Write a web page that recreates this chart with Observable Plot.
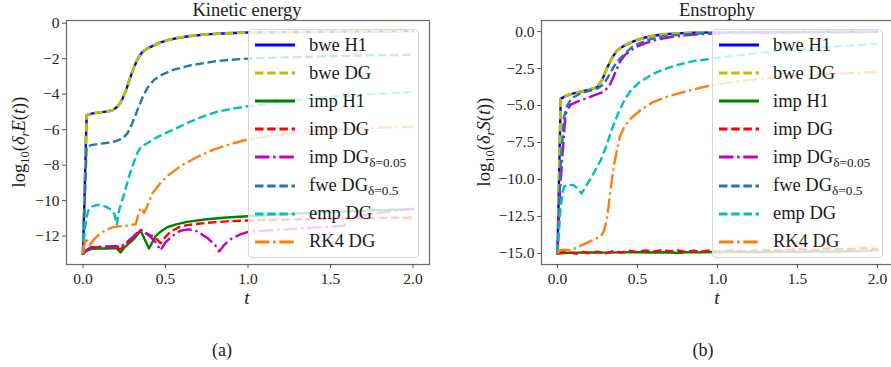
<!DOCTYPE html>
<html><head><meta charset="utf-8">
<script src="https://cdn.jsdelivr.net/npm/d3@7"></script>
<script src="https://cdn.jsdelivr.net/npm/@observablehq/plot@0.6"></script>
<style>
body{margin:0;background:#fff;}
#wrap{position:relative;width:891px;height:367px;overflow:hidden;background:#fff;font-family:"Liberation Serif",serif;color:#1a1a1a;}
#wrap svg text{font-family:"Liberation Serif",serif !important;}
.abs{position:absolute;white-space:nowrap;line-height:1;font-family:"Liberation Serif",serif;}
.ctr{transform:translate(-50%,-50%);}
.rot{transform:translate(-50%,-50%) rotate(-90deg);}
.sub{font-size:0.68em;position:relative;top:0.32em;}
.legend{position:absolute;background:rgba(255,255,255,0.8);border:1px solid #d9d9d9;border-radius:4px;box-sizing:border-box;font-family:"Liberation Serif",serif;}
.item{position:absolute;left:0;height:28px;display:flex;align-items:center;font-size:18.5px;font-family:"Liberation Serif",serif;white-space:nowrap;}
</style>
</head><body><div id="wrap"></div>
<script>
// ---------- series metadata ----------
const seriesNames  = ["bwe H1","bwe DG","imp H1","imp DG","imp DG","fwe DG","emp DG","RK4 DG"];
const seriesSubs   = ["","","","","δ=0.05","δ=0.5","",""];
const seriesColors = ["#0000ff","#bfbf00","#008000","#ff0000","#bf00bf","#1f77b4","#00bfbf","#ff7f0e"];
const seriesStyles = ["solid","dashed","solid","dashed","dashdot","dashed","dashed","dashdot"];

// ---------- ticks ----------
const xTicks = [0, 0.5, 1.0, 1.5, 2.0];
const keYTicks = [0, -2, -4, -6, -8, -10, -12];
const enYTicks = [0, -2.5, -5, -7.5, -10, -12.5, -15];

// ---------- (a) Kinetic energy: [t, log10(δr E)] ----------
const ke_bwe = [[0,-13],[0.022,-5.2],[0.05,-5.1],[0.1,-5.03],[0.15,-4.97],[0.18,-4.9],[0.21,-4.7],[0.235,-4.35],[0.26,-3.8],[0.285,-3.1],[0.31,-2.45],[0.335,-1.95],[0.36,-1.62],[0.39,-1.42],[0.43,-1.25],[0.47,-1.08],[0.52,-0.94],[0.58,-0.82],[0.65,-0.72],[0.75,-0.63],[0.87,-0.57],[1.0,-0.53],[1.25,-0.5],[1.5,-0.48],[1.75,-0.46],[2.0,-0.45]];
const ke_impH1 = [[0,-13],[0.02,-12.85],[0.05,-12.72],[0.1,-12.7],[0.15,-12.7],[0.2,-12.68],[0.215,-12.78],[0.228,-12.92],[0.25,-12.65],[0.28,-12.4],[0.31,-12.15],[0.35,-11.7],[0.375,-12.2],[0.4,-12.7],[0.44,-12.0],[0.47,-11.75],[0.51,-11.5],[0.56,-11.35],[0.63,-11.2],[0.75,-11.05],[0.87,-10.95],[1.0,-10.88],[1.25,-10.75],[1.5,-10.65],[1.75,-10.55],[2.0,-10.48]];
const ke_impDG = [[0,-13],[0.02,-12.8],[0.05,-12.65],[0.1,-12.62],[0.15,-12.62],[0.2,-12.6],[0.225,-12.75],[0.25,-12.55],[0.29,-12.2],[0.33,-11.85],[0.35,-11.68],[0.38,-11.85],[0.42,-12.0],[0.45,-12.2],[0.47,-12.4],[0.5,-12.05],[0.53,-11.75],[0.58,-11.5],[0.63,-11.38],[0.75,-11.25],[0.87,-11.17],[1.0,-11.12],[1.25,-11.06],[1.5,-11.02],[1.75,-10.98],[2.0,-10.95]];
const ke_impDGd = [[0,-13],[0.02,-12.8],[0.05,-12.62],[0.1,-12.6],[0.15,-12.58],[0.2,-12.55],[0.225,-12.65],[0.25,-12.45],[0.29,-12.15],[0.33,-11.8],[0.35,-11.65],[0.38,-11.8],[0.41,-12.05],[0.44,-12.35],[0.47,-12.8],[0.5,-12.35],[0.54,-12.0],[0.59,-11.7],[0.64,-11.62],[0.68,-11.68],[0.72,-11.9],[0.76,-12.15],[0.8,-12.5],[0.825,-12.87],[0.86,-12.45],[0.9,-12.15],[0.95,-11.92],[1.0,-11.76],[1.2,-11.64],[1.4,-11.52],[1.58,-11.42],[1.64,-10.92],[1.75,-10.75],[1.87,-10.6],[2.0,-10.45]];
const ke_fwe = [[0,-13],[0.022,-6.95],[0.05,-6.87],[0.1,-6.8],[0.15,-6.74],[0.2,-6.65],[0.24,-6.5],[0.27,-6.2],[0.3,-5.6],[0.33,-4.9],[0.36,-4.2],[0.39,-3.65],[0.43,-3.2],[0.48,-2.9],[0.55,-2.62],[0.65,-2.38],[0.8,-2.15],[0.9,-2.06],[1.0,-2.0],[1.25,-1.92],[1.5,-1.86],[1.75,-1.81],[2.0,-1.78]];
const ke_emp = [[0,-13],[0.012,-11.5],[0.03,-10.6],[0.05,-10.35],[0.08,-10.25],[0.11,-10.25],[0.14,-10.35],[0.17,-10.5],[0.19,-10.75],[0.205,-11.35],[0.22,-10.5],[0.25,-9.6],[0.28,-8.6],[0.31,-7.8],[0.33,-7.3],[0.35,-7.0],[0.37,-6.87],[0.41,-6.65],[0.45,-6.42],[0.5,-6.2],[0.57,-5.9],[0.65,-5.55],[0.73,-5.25],[0.81,-5.0],[0.9,-4.83],[1.0,-4.68],[1.25,-4.38],[1.5,-4.15],[1.75,-4.0],[2.0,-3.88]];
const ke_rk4 = [[0,-13],[0.015,-12.1],[0.04,-12.5],[0.07,-12.15],[0.1,-11.9],[0.14,-11.65],[0.18,-11.5],[0.22,-11.45],[0.27,-11.4],[0.32,-11.33],[0.34,-10.6],[0.355,-10.4],[0.37,-10.7],[0.39,-10.3],[0.42,-9.6],[0.47,-9.0],[0.52,-8.55],[0.6,-8.0],[0.7,-7.5],[0.8,-7.1],[0.9,-6.8],[1.0,-6.55],[1.25,-6.2],[1.5,-6.0],[1.75,-5.9],[2.0,-5.84]];

// ---------- (b) Enstrophy: [t, log10(δr S)] ----------
const en_bwe = [[0,-15],[0.02,-4.55],[0.05,-4.35],[0.1,-4.18],[0.15,-4.05],[0.2,-3.92],[0.25,-3.76],[0.28,-3.25],[0.31,-2.45],[0.34,-1.8],[0.37,-1.3],[0.41,-1.0],[0.45,-0.78],[0.5,-0.55],[0.55,-0.4],[0.6,-0.28],[0.67,-0.18],[0.75,-0.12],[0.85,-0.08],[1.0,-0.05],[1.25,-0.03],[1.5,-0.02],[1.75,-0.01],[2.0,0]];
const en_impH1 = [[0,-15],[0.1,-14.95],[0.2,-14.93],[0.3,-14.95],[0.4,-14.93],[0.5,-14.92],[0.6,-14.94],[0.7,-14.92],[0.75,-14.97],[0.8,-14.92],[0.9,-14.93],[1.0,-14.9],[1.1,-14.88],[1.2,-14.92],[1.3,-14.9],[1.4,-14.87],[1.5,-14.9],[1.6,-14.86],[1.7,-14.88],[1.8,-14.85],[1.9,-14.83],[2.0,-14.8]];
const en_impDG = [[0,-15],[0.04,-14.9],[0.08,-14.95],[0.12,-15.02],[0.16,-14.9],[0.2,-15.0],[0.25,-14.88],[0.3,-15.0],[0.35,-14.85],[0.4,-14.95],[0.45,-14.82],[0.5,-14.92],[0.55,-14.8],[0.6,-14.88],[0.65,-14.78],[0.7,-14.85],[0.75,-14.8],[0.8,-14.9],[0.85,-14.82],[0.9,-14.88],[0.95,-14.8],[1.0,-14.88],[1.1,-14.8],[1.2,-14.86],[1.3,-14.76],[1.4,-14.82],[1.5,-14.72],[1.6,-14.78],[1.7,-14.65],[1.8,-14.72],[1.9,-14.62],[2.0,-14.7]];
const en_impDGd = [[0,-15],[0.015,-11],[0.03,-8.5],[0.05,-5.6],[0.08,-4.95],[0.12,-4.75],[0.17,-4.55],[0.22,-4.35],[0.27,-4.15],[0.3,-3.95],[0.33,-3.55],[0.36,-2.8],[0.39,-2.05],[0.42,-1.6],[0.46,-1.25],[0.5,-1.0],[0.55,-0.78],[0.62,-0.55],[0.7,-0.38],[0.8,-0.25],[0.9,-0.17],[1.0,-0.11],[1.5,-0.05],[2.0,-0.03]];
const en_fwe = [[0,-15],[0.02,-9],[0.04,-5.8],[0.06,-5.0],[0.09,-4.5],[0.14,-4.2],[0.2,-4.0],[0.25,-3.85],[0.29,-3.55],[0.32,-3.0],[0.35,-2.4],[0.38,-1.95],[0.42,-1.5],[0.46,-1.1],[0.51,-0.8],[0.58,-0.52],[0.65,-0.35],[0.75,-0.22],[0.86,-0.14],[1.0,-0.08],[1.5,-0.04],[2.0,-0.02]];
const en_emp = [[0,-15],[0.02,-11.8],[0.04,-10.5],[0.06,-10.38],[0.1,-10.38],[0.125,-10.6],[0.15,-10.95],[0.19,-10.25],[0.23,-9.5],[0.27,-8.7],[0.3,-7.9],[0.34,-6.6],[0.38,-5.5],[0.42,-4.6],[0.46,-3.95],[0.51,-3.45],[0.56,-3.1],[0.6,-2.85],[0.65,-2.62],[0.75,-2.25],[0.85,-2.0],[1.0,-1.78],[1.25,-1.45],[1.5,-1.2],[1.75,-1.0],[2.0,-0.83]];
const en_rk4 = [[0,-15],[0.015,-14.78],[0.05,-14.75],[0.085,-14.78],[0.13,-14.55],[0.2,-14.2],[0.27,-13.85],[0.29,-13.5],[0.31,-12.6],[0.325,-11.3],[0.34,-10.0],[0.355,-8.9],[0.37,-8.1],[0.39,-7.1],[0.42,-6.4],[0.46,-5.85],[0.52,-5.3],[0.6,-4.75],[0.7,-4.35],[0.8,-4.05],[0.9,-3.78],[1.0,-3.55],[1.25,-3.2],[1.5,-2.98],[1.75,-2.83],[2.0,-2.74]];

const keSeries = [ke_bwe, ke_bwe, ke_impH1, ke_impDG, ke_impDGd, ke_fwe, ke_emp, ke_rk4];
const enSeries = [en_bwe, en_bwe, en_impH1, en_impDG, en_impDGd, en_fwe, en_emp, en_rk4];

const LW = 2.4;
const dashFor = s => s === "dashed" ? "8.5,3.7" : s === "dashdot" ? "14.5,3.7,2.4,3.7" : null;
const FONT = "Liberation Serif";

function panel(series, yDomain, yTicks, yFmt, marginLeft, marginRight, width) {
  const marks = [];
  series.forEach((data, i) => {
    const o = {x: d => d[0], y: d => d[1], stroke: seriesColors[i], strokeWidth: i === 1 ? 2.8 : LW,
               strokeLinejoin: "round", strokeLinecap: seriesStyles[i] === "solid" ? "square" : "butt"};
    const da = dashFor(seriesStyles[i]);
    if (da) o.strokeDasharray = da;
    marks.push(Plot.line(data, o));
  });
  marks.push(Plot.frame({stroke: "#6b6b6b", strokeWidth: 1.2}));
  marks.push(Plot.axisX({ticks: xTicks, tickFormat: d3.format(".1f"), tickSize: 4, tickPadding: 4, label: null, stroke: "#555", fill: "#222", fontFamily: FONT, fontSize: 15.5}));
  marks.push(Plot.axisY({ticks: yTicks, tickFormat: yFmt, tickSize: 4, tickPadding: 3, label: null, stroke: "#555", fill: "#222", fontFamily: FONT, fontSize: 15.5}));
  return Plot.plot({
    width, height: 310,
    marginLeft, marginRight, marginTop: 20, marginBottom: 46,
    x: {domain: [-0.1, 2.1]},
    y: {domain: yDomain},
    style: {fontFamily: FONT + ", serif", fontSize: "15.5px", color: "#222", background: "transparent", overflow: "visible"},
    marks
  });
}

const wrap = document.getElementById("wrap");
function place(el, left, top) { el.style.position = "absolute"; el.style.left = left + "px"; el.style.top = top + "px"; wrap.appendChild(el); }

const pa = panel(keSeries, [-13.6, 0.15], keYTicks, d3.format("d"), 66, 16, 445);
place(pa, 0, 0);
const pb = panel(enSeries, [-15.75, 0.75], enYTicks, d3.format(".1f"), 101, 7, 460);
place(pb, 440, 0);

function html(s, cls, left, top, style) {
  const d = document.createElement("div");
  d.className = "abs " + cls;
  d.innerHTML = s;
  d.style.left = left + "px"; d.style.top = top + "px";
  if (style) d.style.cssText += style;
  wrap.appendChild(d);
  return d;
}
// titles
html("Kinetic energy", "ctr", 247, 10, "font-size:18.5px;");
html("Enstrophy", "ctr", 717, 10, "font-size:18.5px;");
// x labels
html("<i>t</i>", "ctr", 247, 297, "font-size:19px;");
html("<i>t</i>", "ctr", 717, 297, "font-size:19px;");
// y labels
html("log<span class='sub'>10</span>(<i>δ<span class='sub'>r</span>E</i>(<i>t</i>))", "rot", 19, 142, "font-size:18.5px;");
html("log<span class='sub'>10</span>(<i>δ<span class='sub'>r</span>S</i>(<i>t</i>))", "rot", 484, 142, "font-size:18.5px;");
// captions
html("(a)", "ctr", 222, 350, "font-size:18px;");
html("(b)", "ctr", 703, 350, "font-size:18px;");

// legends
function legend(left, top, w, h, handleLeft, textGap) {
  const box = document.createElement("div");
  box.className = "legend";
  box.style.left = left + "px"; box.style.top = top + "px";
  box.style.width = w + "px"; box.style.height = h + "px";
  seriesNames.forEach((name, i) => {
    const it = document.createElement("div");
    it.className = "item";
    it.style.top = (1 + i * 28.1) + "px";
    it.style.left = handleLeft + "px";
    const da = dashFor(seriesStyles[i]);
    it.innerHTML = `<svg width="40" height="10" style="margin-right:${textGap}px;flex:none"><line x1="0" x2="40" y1="5" y2="5" stroke="${seriesColors[i]}" stroke-width="2.8" ${da ? `stroke-dasharray="${da}"` : ""}/></svg><span>${name}${seriesSubs[i] ? `<span class='sub' style='font-size:0.72em;top:0.3em'>${seriesSubs[i]}</span>` : ""}</span>`;
    box.appendChild(it);
  });
  wrap.appendChild(box);
}
legend(248, 29, 171, 229, 6, 14);
legend(712, 29, 171, 229, 6, 14);
</script>
</body></html>
